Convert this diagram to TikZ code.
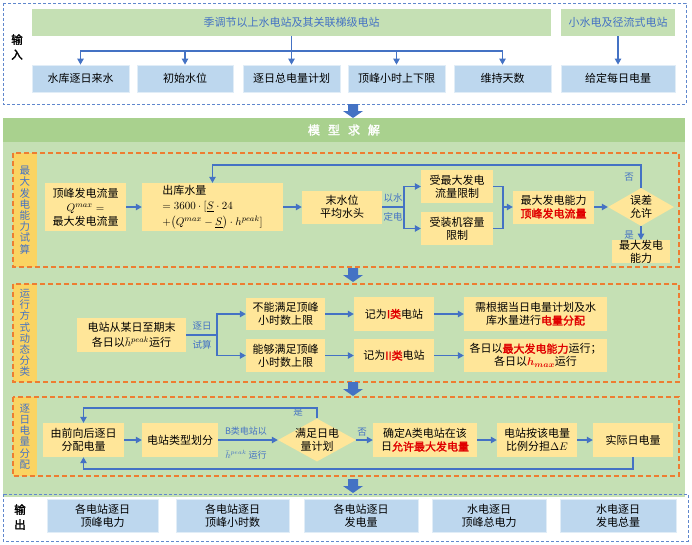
\documentclass[tikz,border=0pt]{standalone}
\usepackage{amsmath}
\usepackage{fontspec}
\setmainfont{Noto Sans CJK SC}[AutoFakeBold=2]
\usetikzlibrary{positioning,arrows.meta,shapes.geometric}
\definecolor{lineblue}{HTML}{4472C4}
\definecolor{boxblue}{HTML}{BDD7EE}
\definecolor{bargreen}{HTML}{C5E0B4}
\definecolor{headgreen}{HTML}{A9D18E}
\definecolor{boxyel}{HTML}{FFE699}
\definecolor{tagyel}{HTML}{FAD462}
\definecolor{dashorange}{HTML}{ED7D31}
\definecolor{hotred}{HTML}{E00000}

\begin{document}
\begin{tikzpicture}[x=1pt, y=-1pt, font=\fontsize{11}{13}\selectfont,
                    inbox/.style={fill=boxblue, draw=white!55!boxblue, line width=0.8pt, minimum height=27pt, inner sep=0pt, align=center},
                    bar/.style={fill=bargreen, minimum height=27pt, inner sep=0pt, text=lineblue},
                    yb/.style={fill=boxyel, align=center, inner sep=0pt},
                    tag/.style={fill=tagyel, minimum width=24pt, inner sep=0pt, align=center, text=lineblue,
                                font=\fontsize{10.5}{11.2}\selectfont},
                    dia/.style={diamond, fill=boxyel, inner sep=0pt},
                    ln/.style={draw=lineblue, line width=1.1pt},
                    arr/.style={ln, -{Triangle[length=6pt,width=6.5pt]}},
                    lab/.style={text=lineblue, inner sep=0pt, font=\fontsize{9.5}{11}\selectfont},
                    frame/.style={draw=dashorange, line width=1.1pt, dash pattern=on 5pt off 3pt},
                    outer/.style={draw=lineblue!85, line width=0.8pt, dash pattern=on 3pt off 2pt},
                    blk/.style={fill=lineblue}]
  \useasboundingbox (0,0) rectangle (692,544);
  % input
  \draw[outer] (3,3) rectangle (686,104);
  \node[align=center, font=\fontsize{11.5}{15}\selectfont\bfseries] (inT) at (17,47) {输\\入};
  \node[bar, minimum width=519pt] (gA) at (291.5,22.5) {季调节以上水电站及其关联梯级电站};
  \node[bar, minimum width=114pt] (gB) at (618,22.5) {小水电及径流式电站};
  \node[inbox, minimum width=97pt] (in1) at (80.5,78.5) {水库逐日来水};
  \node[inbox, minimum width=96pt] (in2) at (185,78.5) {初始水位};
  \node[inbox, minimum width=97pt] (in3) at (291.5,78.5) {逐日总电量计划};
  \node[inbox, minimum width=97pt] (in4) at (396.5,78.5) {顶峰小时上下限};
  \node[inbox, minimum width=97pt] (in5) at (502.5,78.5) {维持天数};
  \node[inbox, minimum width=114pt] (in6) at (618,78.5) {给定每日电量};
  \coordinate (bus) at (291.5,51);
  \draw[arr] (gA) -- (in3);
  \foreach \b in {in1,in2,in4,in5} \draw[arr] (bus) -| (\b);
  \draw[arr] (gB) -- (in6);

  % model
  \fill[headgreen] (3,118) rectangle (685,142);
  \fill[bargreen] (3,142) rectangle (685,497);
  \node[text=white, font=\fontsize{12}{14}\selectfont\bfseries] (hd) at (344,130)
       {模\hspace{8pt}型\hspace{8pt}求\hspace{8pt}解};

  \node[tag, minimum height=114pt] (t1) at (25,210) {最\\大\\发\\电\\能\\力\\试\\算};
  \draw[frame] (13,153) rectangle (679,267);
  \node[yb, minimum width=81pt, minimum height=48pt, font=\fontsize{11}{14}\selectfont] (a1) at (85.5,207)
       {顶峰发电流量\\$Q^{max}=$\\最大发电流量};
  \node[yb, minimum width=141pt, minimum height=48pt, align=left, font=\fontsize{11}{15.5}\selectfont] (a2) at (212.5,207)
       {出库水量\\$=3600\cdot[\underline{S}\cdot 24$\\$+\big(Q^{max}-\underline{S}\big)\cdot h^{peak}]$};
  \node[yb, minimum width=80pt, minimum height=33pt] (a3) at (342,207) {末水位\\平均水头};
  \coordinate (s1) at (404,207);
  \node[yb, minimum width=72pt, minimum height=33pt] (a4) at (457,186.5) {受最大发电\\流量限制};
  \node[yb, minimum width=72pt, minimum height=33pt] (a5) at (457,228.5) {受装机容量\\限制};
  \coordinate (m1) at (503,207);
  \node[yb, minimum width=81pt, minimum height=33pt] (a6) at (553.5,207) {最大发电能力\\\textcolor{hotred}{\textbf{顶峰发电流量}}};
  \node[dia, minimum width=66pt, minimum height=38pt,
        label={[align=center, inner sep=0pt]center:误差\\允许}] (d1) at (641,207) {};
  \coordinate (fb1) at (641,165);
  \node[yb, minimum width=58pt, minimum height=23pt] (a7) at (641,251.5) {最大发电\\能力};
  \draw[arr] (a1) -- (a2);
  \draw[arr] (a2) -- (a3);
  \draw[ln] (a3) -- (s1);
  \draw[arr] (s1) |- (a4);
  \draw[arr] (s1) |- (a5);
  \draw[ln] (a4) -| (m1);
  \draw[ln] (a5) -| (m1);
  \draw[arr] (m1) -- (a6);
  \draw[arr] (a6) -- (d1);
  \draw[arr] (d1) -- (fb1) -| (a2);
  \draw[arr] (d1) -- (a7);
  \node[lab] (y1) at (393,198) {以水};
  \node[lab] (y2) at (393,217) {定电};
  \node[lab] (no1) at (629,177) {否};
  \node[lab] (ys1) at (629,235) {是};

  \node[tag, minimum height=98pt] (t2) at (25,333) {运\\行\\方\\式\\动\\态\\分\\类};
  \draw[frame] (13,284) rectangle (679,382);
  \node[yb, minimum width=109pt, minimum height=34pt, font=\fontsize{11}{15.5}\selectfont] (b1) at (131.5,335)
       {电站从某日至期末\\各日以$\bar{h}^{peak}$运行};
  \coordinate (s2) at (217,335);
  \node[yb, minimum width=79pt, minimum height=32pt] (b2) at (285.5,314) {不能满足顶峰\\小时数上限};
  \node[yb, minimum width=79pt, minimum height=33pt] (b3) at (285.5,355.5) {能够满足顶峰\\小时数上限};
  \node[yb, minimum width=80pt, minimum height=34pt] (b4) at (394,314) {记为\textcolor{hotred}{\textbf{I类}}电站};
  \node[yb, minimum width=80pt, minimum height=33pt] (b5) at (394,355.5) {记为\textcolor{hotred}{\textbf{II类}}电站};
  \node[yb, minimum width=143pt, minimum height=34pt] (b6) at (535.5,314)
       {需根据当日电量计划及水\\库水量进行\textcolor{hotred}{\textbf{电量分配}}};
  \node[yb, minimum width=143pt, minimum height=33pt] (b7) at (535.5,355.5)
       {各日以\textcolor{hotred}{\textbf{最大发电能力}}运行；\\各日以\textcolor{hotred}{$\boldsymbol{h_{max}}$}运行};
  \draw[ln] (b1) -- (s2);
  \draw[arr] (s2) |- (b2);
  \draw[arr] (s2) |- (b3);
  \draw[arr] (b2) -- (b4);
  \draw[arr] (b4) -- (b6);
  \draw[arr] (b3) -- (b5);
  \draw[arr] (b5) -- (b7);
  \node[lab] (z1) at (202,326) {逐日};
  \node[lab] (z2) at (202,345) {试算};

  \node[tag, minimum height=79pt] (t3) at (25,436.5) {逐\\日\\电\\量\\分\\配};
  \draw[frame] (13,397) rectangle (679,476);
  \node[yb, minimum width=81pt, minimum height=34pt] (c1) at (83.5,440) {由前向后逐日\\分配电量};
  \node[yb, minimum width=76pt, minimum height=34pt] (c2) at (180,440) {电站类型划分};
  \node[dia, minimum width=78pt, minimum height=43pt,
        label={[align=center, inner sep=0pt]center:满足日电\\量计划}] (d2) at (317,440) {};
  \node[yb, minimum width=104pt, minimum height=34pt] (c3) at (425,440)
       {确定A类电站在该\\日\textcolor{hotred}{\textbf{允许最大发电量}}};
  \node[yb, minimum width=80pt, minimum height=34pt] (c4) at (537,440) {电站按该电量\\比例分担$\Delta E$};
  \node[yb, minimum width=80pt, minimum height=34pt] (c5) at (633,440) {实际日电量};
  \coordinate (fb2) at (317,408);
  \coordinate (fb3) at (633,469);
  \draw[arr] (c1) -- (c2);
  \draw[arr] (c2) -- (d2);
  \draw[arr] (d2) -- (fb2) -| (c1);
  \draw[arr] (d2) -- (c3);
  \draw[arr] (c3) -- (c4);
  \draw[arr] (c4) -- (c5);
  \draw[arr] (c5) -- (fb3) -| (c1);
  \node[lab, font=\fontsize{9}{10}\selectfont] (w1) at (246,431) {B类电站以};
  \node[lab, font=\fontsize{9}{10}\selectfont] (w2) at (246,455) {$\bar{h}^{peak}$\ 运行};
  \node[lab] (ys2) at (298,412) {是};
  \node[lab] (no2) at (362,432) {否};

  % output
  \draw[outer] (3,494) rectangle (688,541);
  \node[align=center, font=\fontsize{11.5}{15}\selectfont\bfseries] (ouT) at (20,517) {输\\出};
  \node[inbox, minimum width=111pt, minimum height=33pt] (o1) at (102.5,515.5) {各电站逐日\\顶峰电力};
  \node[inbox, minimum width=113pt, minimum height=33pt] (o2) at (232.5,515.5) {各电站逐日\\顶峰小时数};
  \node[inbox, minimum width=114pt, minimum height=33pt] (o3) at (361,515.5) {各电站逐日\\发电量};
  \node[inbox, minimum width=114pt, minimum height=33pt] (o4) at (489,515.5) {水电逐日\\顶峰总电力};
  \node[inbox, minimum width=116pt, minimum height=33pt] (o5) at (618,515.5) {水电逐日\\发电总量};

  \foreach \yy in {104,268,382,479}
    \fill[blk, shift={(0,\yy)}] (348,0) -- (358,0) -- (358,7) -- (363,7) -- (353,14) -- (343,7) -- (348,7) -- cycle;
\end{tikzpicture}
\end{document}
